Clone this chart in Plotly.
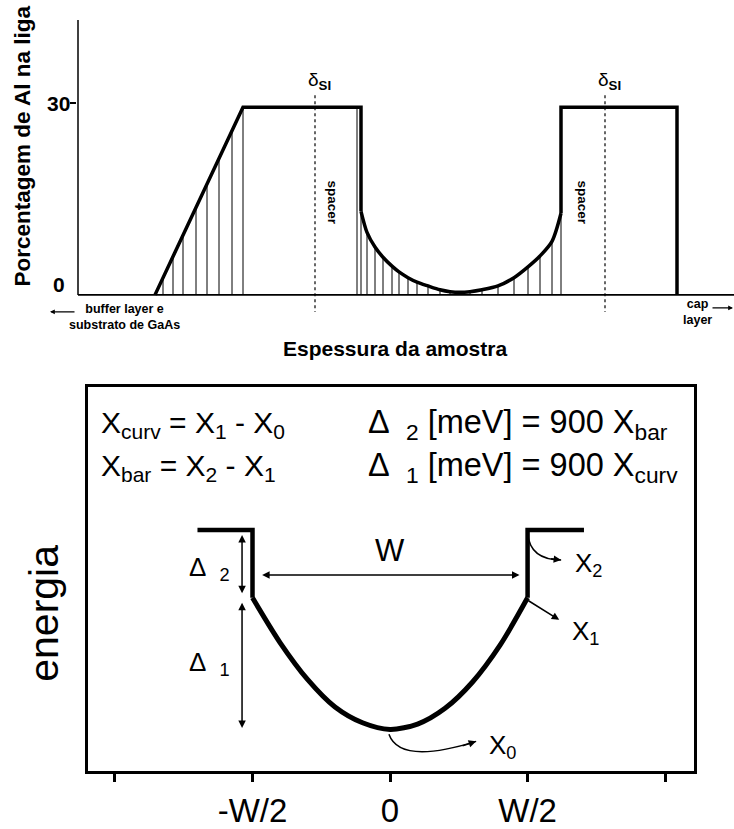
import numpy as np
import plotly.graph_objects as go

FIG_W, FIG_H = 734, 829
FONT = "Liberation Sans, Arial, Helvetica, sans-serif"

# ---------------- top panel data (thickness in arbitrary units, Al %) ----------------
ramp_x = [77, 165, 283, 283]
ramp_y = [0, 29.4, 29.4, 13.1]
well_x = [283, 289, 297, 305, 314, 321, 330, 339, 350, 362, 372, 382, 392, 404,
          420, 436, 450, 462, 474, 483]
well_y = [13.1, 9.8, 7.5, 5.9, 4.5, 3.6, 2.7, 2.0, 1.4, 0.8, 0.5, 0.4, 0.5, 0.8,
          1.4, 2.7, 4.4, 6.1, 8.4, 12.8]
barrier_x = [483, 483, 599, 599]
barrier_y = [12.8, 29.4, 29.4, 0]
ramp_hatch_x = [85, 95, 105, 118, 129, 141, 154, 165, 279]
delta_si_x = [237, 527]
spacer_x = [255, 505]
thickness_max = 656
al_ticks = [0, 30]

# ---------------- bottom panel data (position in units of W, energy in units of Delta1) ----------------
pos_ticks = [-1, -0.5, 0, 0.5, 1]
pos_labels = ["", "-W/2", "0", "W/2", ""]
qw_pos = [-0.5, -0.4, -0.3, -0.2, -0.1, 0.0, 0.1, 0.2, 0.3, 0.4, 0.5]
qw_energy = [1.0, 0.66, 0.38, 0.17, 0.05, 0.0, 0.04, 0.16, 0.36, 0.64, 1.0]
left_bar_pos = [-0.70, -0.5, -0.5]
left_bar_energy = [1.515, 1.515, 1.0]
right_bar_pos = [0.5, 0.5, 0.705]
right_bar_energy = [1.0, 1.515, 1.515]


def px(x):
    return x / FIG_W


def py(y):
    return 1 - y / FIG_H


fig = go.Figure()

# ---- top panel ----
fig.add_trace(go.Scatter(x=[0, thickness_max], y=[0, 0], mode="lines",
                         line=dict(color="black", width=1.8), xaxis="x", yaxis="y",
                         hoverinfo="skip"))
fig.add_trace(go.Scatter(x=[0, 0], y=[0, 43.1], mode="lines",
                         line=dict(color="black", width=1.5), xaxis="x", yaxis="y",
                         hoverinfo="skip"))
# hatching
hx, hy = [], []
for h in ramp_hatch_x:
    top = float(np.interp(h, ramp_x[:3], ramp_y[:3]))
    hx += [h, h, None]
    hy += [0, top, None]
for h, v in zip(well_x, well_y):
    hx += [h, h, None]
    hy += [0, v, None]
fig.add_trace(go.Scatter(x=hx, y=hy, mode="lines", line=dict(color="black", width=1),
                         xaxis="x", yaxis="y", hoverinfo="skip"))
# profile
fig.add_trace(go.Scatter(x=ramp_x, y=ramp_y, mode="lines",
                         line=dict(color="black", width=3.5), xaxis="x", yaxis="y"))
fig.add_trace(go.Scatter(x=well_x, y=well_y, mode="lines",
                         line=dict(color="black", width=3.5, shape="spline", smoothing=0.8),
                         xaxis="x", yaxis="y"))
fig.add_trace(go.Scatter(x=barrier_x, y=barrier_y, mode="lines",
                         line=dict(color="black", width=3.5), xaxis="x", yaxis="y"))
# delta doping dotted lines
for d in delta_si_x:
    fig.add_trace(go.Scatter(x=[d, d], y=[31.3, -2.7], mode="lines",
                             line=dict(color="black", width=1.2, dash="dot"),
                             xaxis="x", yaxis="y", hoverinfo="skip"))

# ---- bottom panel ----
fig.add_trace(go.Scatter(x=qw_pos, y=qw_energy, mode="lines",
                         line=dict(color="black", width=5, shape="spline", smoothing=0.8),
                         xaxis="x2", yaxis="y2"))
fig.add_trace(go.Scatter(x=left_bar_pos, y=left_bar_energy, mode="lines",
                         line=dict(color="black", width=4.5), xaxis="x2", yaxis="y2"))
fig.add_trace(go.Scatter(x=right_bar_pos, y=right_bar_energy, mode="lines",
                         line=dict(color="black", width=4.5), xaxis="x2", yaxis="y2"))

annotations = []
shapes = []


def txt(text, x, y, size, bold=False, xref="paper", yref="paper", angle=0,
        xanchor="center", yanchor="middle", align="center"):
    annotations.append(dict(text=text, x=x, y=y, xref=xref, yref=yref, showarrow=False,
                            textangle=angle, xanchor=xanchor, yanchor=yanchor, align=align,
                            font=dict(family=FONT, size=size, color="black",
                                      weight="bold" if bold else "normal")))


def arrow(x, y, ax, ay, xref="x2", yref="y2", both=False, width=1.5, size=1.0):
    annotations.append(dict(text="", x=x, y=y, ax=ax, ay=ay, xref=xref, yref=yref,
                            axref=xref if xref != "paper" else "pixel",
                            ayref=yref if yref != "paper" else "pixel",
                            showarrow=True, arrowhead=2, arrowsize=size,
                            arrowwidth=width, arrowcolor="black", standoff=0,
                            startstandoff=0,
                            arrowside="end+start" if both else "end"))


# top panel texts
txt("Porcentagem de Al na liga", px(22), py(147), 22.5, bold=True, angle=-90)
txt("30", px(59), py(104), 21, bold=True)
txt("0", px(59), py(286), 21, bold=True)
txt("Espessura da amostra", px(395), py(350), 21, bold=True)
txt("buffer layer e<br>substrato de GaAs", px(125), py(318), 12.5, bold=True)
txt("cap<br>layer", px(697), py(313), 12.5, bold=True)
arrow(px(50), py(313), 26, 0, xref="paper", yref="paper", width=1.2, size=0.8)
arrow(px(733), py(309), -22, 0, xref="paper", yref="paper", width=1.2, size=0.8)
for d in delta_si_x:
    annotations.append(dict(text="δ<sub><b>SI</b></sub>", x=d + 4, y=33.6, xref="x", yref="y",
                            showarrow=False, font=dict(family=FONT, size=19, color="black")))
for s in spacer_x:
    txt("spacer", s, 14.5, 13.5, bold=True, xref="x", yref="y", angle=90)

# bottom panel texts
txt("energia", px(44), py(616), 41, angle=-90)
txt("X<sub>curv</sub> = X<sub>1</sub> - X<sub>0</sub>", px(99), py(426), 30,
    xanchor="left")
txt("X<sub>bar</sub> = X<sub>2</sub> - X<sub>1</sub>", px(99), py(469), 30,
    xanchor="left")
txt("Δ  <sub>2</sub> [meV] = 900 X<sub>bar</sub>", px(366), py(426), 32.5, xanchor="left")
txt("Δ  <sub>1</sub> [meV] = 900 X<sub>curv</sub>", px(366), py(469), 32.5, xanchor="left")
txt("W", 0.0, 1.36, 31, xref="x2", yref="y2")
txt("Δ  <sub>2</sub>", -0.655, 1.22, 26, xref="x2", yref="y2")
txt("Δ  <sub>1</sub>", -0.655, 0.5, 26, xref="x2", yref="y2")
txt("X<sub>2</sub>", 0.72, 1.25, 26, xref="x2", yref="y2")
txt("X<sub>1</sub>", 0.71, 0.74, 26, xref="x2", yref="y2")
txt("X<sub>0</sub>", 0.41, -0.13, 26, xref="x2", yref="y2")

# dimension arrows
arrow(-0.538, 1.477, -0.538, 1.023, both=True)
arrow(-0.538, 0.962, -0.538, 0.0, both=True)
arrow(-0.465, 1.174, 0.476, 1.174, both=True)
arrow(0.615, 0.833, 0.498, 0.985)
# curved pointers
shapes.append(dict(type="path", xref="x2", yref="y2",
                   path="M 0.50,1.49 Q 0.509,1.288 0.622,1.288",
                   line=dict(color="black", width=1.5)))
arrow(0.622, 1.288, 0.58, 1.298)
shapes.append(dict(type="path", xref="x2", yref="y2",
                   path="M -0.004,-0.038 Q 0.036,-0.273 0.313,-0.091",
                   line=dict(color="black", width=1.5)))
arrow(0.313, -0.091, 0.258, -0.129)

fig.update_layout(
    width=FIG_W, height=FIG_H, margin=dict(l=0, r=0, t=0, b=0),
    paper_bgcolor="white", plot_bgcolor="rgba(0,0,0,0)", showlegend=False,
    annotations=annotations, shapes=shapes,
    xaxis=dict(domain=[px(77), 1], range=[-1, thickness_max], visible=False, anchor="y"),
    yaxis=dict(domain=[py(319), py(20)], range=[-3.6, 43.1], anchor="x",
               showgrid=False, zeroline=False, showline=False, showticklabels=False,
               ticks="outside", tickvals=[al_ticks[1]], ticklen=6, tickwidth=1.5,
               tickcolor="black"),
    xaxis2=dict(domain=[px(88), px(694)], range=[-1.098, 1.105], anchor="y2",
                showgrid=False, zeroline=False, showline=True, mirror=True,
                linecolor="black", linewidth=2.5, ticks="outside", ticklen=8,
                tickwidth=2.5, tickcolor="black", tickvals=pos_ticks, ticktext=pos_labels,
                tickfont=dict(family=FONT, size=33, color="black")),
    yaxis2=dict(domain=[py(774), py(388)], range=[-0.318, 2.606], anchor="x2",
                showgrid=False, zeroline=False, showline=True, mirror=True,
                linecolor="black", linewidth=2.5, showticklabels=False, ticks=""),
)

fig.write_html("out.html", config={"displayModeBar": False},
               post_script="document.body.style.margin='0px';")
